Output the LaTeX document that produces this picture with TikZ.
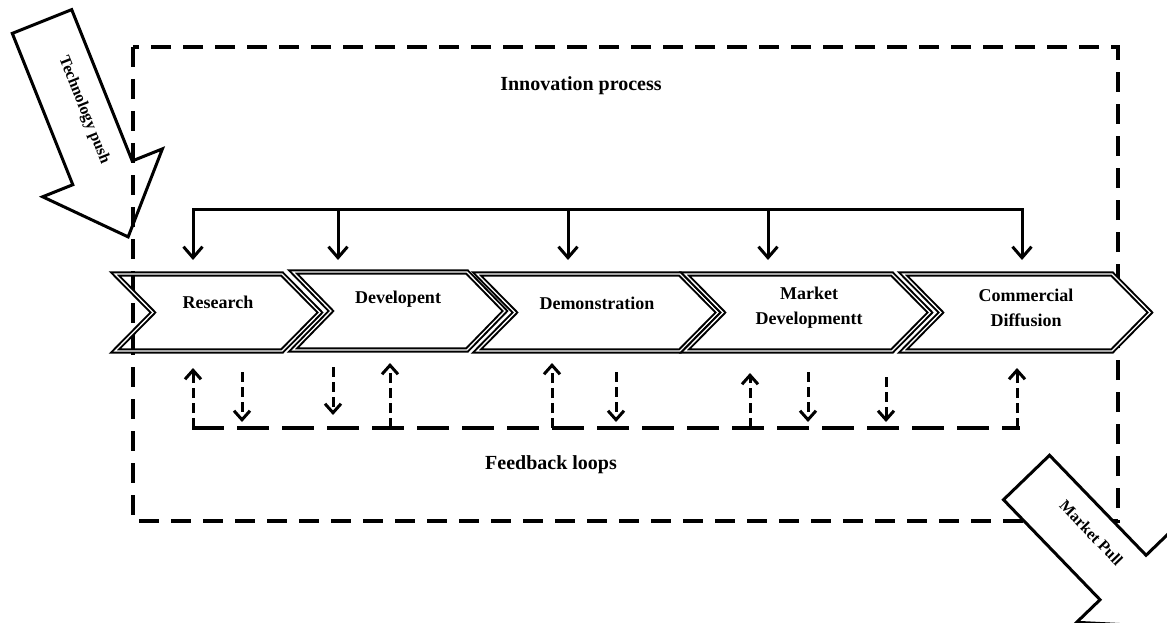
\documentclass[tikz,border=0pt]{standalone}
\usepackage{fontspec}
\setmainfont{Liberation Serif}
\usetikzlibrary{arrows.meta}
\begin{document}
\begin{tikzpicture}[x=1pt,y=-1pt,
  lbl/.style={font=\bfseries\fontsize{18}{25}\selectfont, align=center, inner sep=0pt},
  ttl/.style={font=\bfseries\fontsize{20}{24}\selectfont, inner sep=0pt},
  chev/.style={draw=black, line width=2pt, double=white, double distance=1.3pt, line join=miter},
  bigarrow/.style={draw=black, line width=3pt, fill=white, line join=miter},
  frame/.style={draw=black, line width=4pt, dash pattern=on 20pt off 12pt},
  topline/.style={draw=black, line width=3pt, line join=miter},
  down/.style={topline, -{Straight Barb[length=11pt,width=19pt]}},
  fbline/.style={draw=black, line width=4pt, dash pattern=on 32pt off 13pt},
  fbarrow/.style={draw=black, line width=3pt, dash pattern=on 10pt off 5pt, -{Straight Barb[length=9pt,width=16pt]}},
]
\path[use as bounding box] (0,0) rectangle (1167,623);
\begin{scope}
\clip (0,0) rectangle (1167,623);

% Technology push
\begin{scope}[shift={(42,21.5)}, rotate=-68.2]
  \draw[bigarrow] (0,-32) -- (163,-32) -- (163,-64.5) -- (232,0) -- (163,64.5) -- (163,32) -- (0,32) -- cycle;
  \node[font=\bfseries\fontsize{16}{18}\selectfont, rotate=-68.2, inner sep=0pt] (tpush) at (98,-6) {Technology push};
\end{scope}

% Innovation frame
\draw[frame] (133,47) rectangle (1118,521);

% Chevrons
\newcommand\chevpath[4]{(#1,#3) -- (#2,#3) -- (#2+38,{(#3+#4)/2}) -- (#2,#4) -- (#1,#4) -- (#1+38,{(#3+#4)/2}) -- cycle}
\draw[chev] \chevpath{115}{282}{274}{351};
\draw[chev] \chevpath{293}{467}{272}{350};
\draw[chev] \chevpath{477}{680}{274}{351};
\draw[chev] \chevpath{685}{892}{274}{351};
\draw[chev, fill=white] \chevpath{903}{1112}{274}{351};

\node[lbl] (research) at (218,302) {Research};
\node[lbl] (developent) at (398,299) {Developent};
\node[lbl] (demonstration) at (597,303) {Demonstration};
\node[lbl] (marketdev) at (809,308) {Market\\Developmentt};
\node[lbl] (commercial) at (1026,308) {Commercial\\Diffusion};

% Top bracket
\coordinate (b1) at (193,209); \coordinate (t1) at (193,260);
\coordinate (b2) at (338,209); \coordinate (t2) at (338,260);
\coordinate (b3) at (568,209); \coordinate (t3) at (568,260);
\coordinate (b4) at (768,209); \coordinate (t4) at (768,260);
\coordinate (b5) at (1022,209); \coordinate (t5) at (1022,260);
\draw[topline, {Straight Barb[length=11pt,width=19pt]}-{Straight Barb[length=11pt,width=19pt]}] (t1) -- (b1) -- (b5) -- (t5);
\draw[down] (b2) -- (t2);
\draw[down] (b3) -- (t3);
\draw[down] (b4) -- (t4);

% Feedback loops
\coordinate (fl) at (192,428);
\coordinate (fr) at (1020,428);
\draw[fbline] (fl) -- (fr);
\foreach \i/\x/\ya/\yb in {1/193/428/368, 2/242/372/422, 3/333/367/415, 4/390/428/363, 5/552/428/363, 6/616/372/422, 7/750/428/373, 8/808/372/422, 9/886/377/422, 10/1017/428/368}{
  \coordinate (fa\i) at (\x,\ya);
  \coordinate (fb\i) at (\x,\yb);
  \draw[fbarrow] (fa\i) -- (fb\i);
}

\node[ttl] (title) at (581,86) {Innovation process};
\node[ttl] (fbtitle) at (551,465) {Feedback loops};

% Market pull
\begin{scope}[shift={(1026.5,477.5)}, rotate=-46]
  \draw[bigarrow] (0,-32) -- (139,-32) -- (139,-64.5) -- (208,0) -- (139,64.5) -- (139,32) -- (0,32) -- cycle;
  \node[font=\bfseries\fontsize{16}{18}\selectfont, rotate=-46, inner sep=0pt] (mpull) at (85,-8) {Market Pull};
\end{scope}
\end{scope}
\end{tikzpicture}
\end{document}
